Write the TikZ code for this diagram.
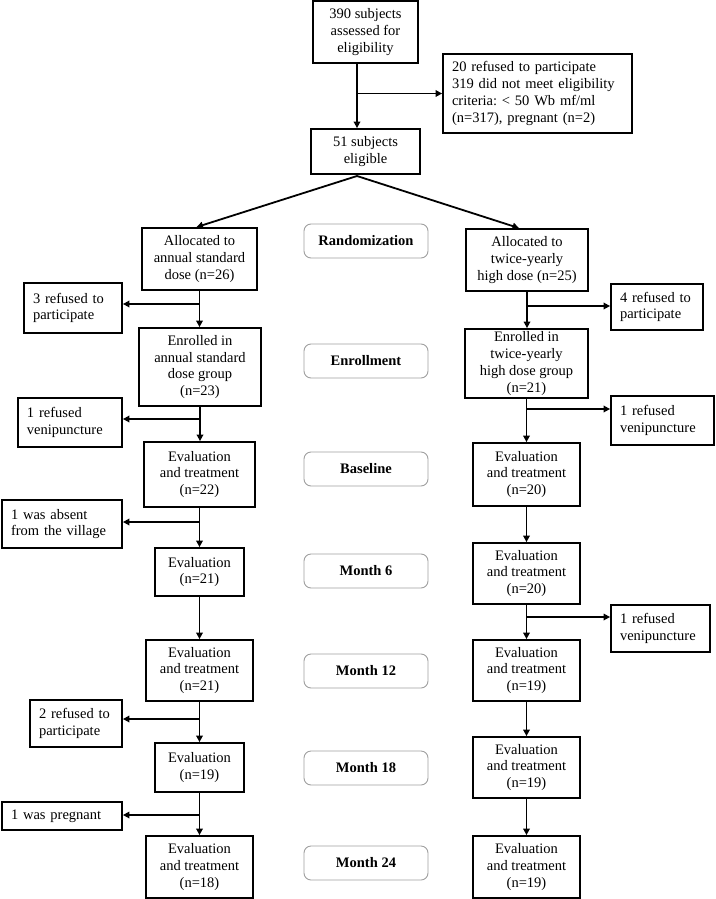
\documentclass[tikz,border=0pt]{standalone}
\usepackage{fontspec}
\setmainfont{Liberation Serif}
\usetikzlibrary{arrows.meta}

\tikzset{
  box/.style 2 args={draw, line width=1.8pt, minimum width=#1, minimum height=#2, inner sep=1pt, align=center},
  sidebox/.style 2 args={draw, line width=1.8pt, text width=#1, minimum height=#2, inner xsep=9pt, inner ysep=1pt, align=left},
  stage/.style={draw=gray!75, line width=0.9pt, rounded corners=7pt, minimum width=124pt, minimum height=34pt,
    font=\fontsize{14.5}{16.8}\selectfont\bfseries},
  arr/.style={line width=1.8pt, -{Triangle[length=6.5pt,width=6.5pt]}},
}

\begin{document}
\begin{tikzpicture}[x=1pt, y=-1pt, font=\fontsize{14.5}{16.8}\selectfont]
\useasboundingbox (0,0) rectangle (715,899);

% screening
\node[box={105pt}{62pt}] (top) at (365.5,32) {390 subjects\\assessed for\\eligibility};
\node[sidebox={171pt}{79pt}] (excl) at (537.5,93.5) {20 refused to participate\\319 did not meet eligibility\\criteria:\ < 50 Wb mf/ml\\(n=317), pregnant (n=2)};
\node[box={109pt}{45pt}] (elig) at (365.5,151.5) {51 subjects\\eligible};

% stages
\foreach \y/\t [count=\i] in {241/Randomization, 361/Enrollment, 469/Baseline, 571/Month 6, 671/Month 12, 768/Month 18, 863/Month 24}
  \node[stage] (stage\i) at (366,\y) {\t};

% annual standard dose arm
\node[box={115pt}{62pt}] (allocL) at (199.5,259) {Allocated to\\annual standard\\dose (n=26)};
\node[box={122pt}{78pt}] (enrL) at (200,367) {Enrolled in\\annual standard\\dose group\\(n=23)};
\node[box={111pt}{65pt}] (baseL) at (199.5,474.5) {Evaluation\\and treatment\\(n=22)};
\node[box={89pt}{48pt}] (m6L) at (199.5,572) {Evaluation\\(n=21)};
\node[box={107pt}{61pt}] (m12L) at (199.5,670.5) {Evaluation\\and treatment\\(n=21)};
\node[box={89pt}{49pt}] (m18L) at (199.5,767.5) {Evaluation\\(n=19)};
\node[box={107pt}{62pt}] (m24L) at (199.5,867) {Evaluation\\and treatment\\(n=18)};

\node[sidebox={80pt}{50pt}] (refL1) at (73,308) {3 refused to\\participate};
\node[sidebox={86pt}{49pt}] (veniL) at (70,422.5) {1 refused\\venipuncture};
\node[sidebox={102pt}{48pt}] (absL) at (62,524) {1 was absent\\from the village};
\node[sidebox={74pt}{47pt}] (refL2) at (76,723.5) {2 refused to\\participate};
\node[sidebox={102pt}{28pt}] (pregL) at (62,816) {1 was pregnant};

% twice-yearly high dose arm
\node[box={122pt}{62pt}] (allocR) at (527,260) {Allocated to\\twice-yearly\\high dose (n=25)};
\node[box={123pt}{69pt}] (enrR) at (526.5,363.5) {Enrolled in\\twice-yearly\\high dose group\\(n=21)};
\node[box={107pt}{63pt}] (baseR) at (526.5,474.5) {Evaluation\\and treatment\\(n=20)};
\node[box={107pt}{61pt}] (m6R) at (526.5,573.5) {Evaluation\\and treatment\\(n=20)};
\node[box={107pt}{61pt}] (m12R) at (526.5,670.5) {Evaluation\\and treatment\\(n=19)};
\node[box={107pt}{61pt}] (m18R) at (526.5,767.5) {Evaluation\\and treatment\\(n=19)};
\node[box={107pt}{62pt}] (m24R) at (526.5,867) {Evaluation\\and treatment\\(n=19)};

\node[sidebox={74pt}{46pt}] (refR1) at (657,307) {4 refused to\\participate};
\node[sidebox={85pt}{49pt}] (veniR) at (662.5,420.5) {1 refused\\venipuncture};
\node[sidebox={81pt}{47pt}] (veniR2) at (660.5,628.5) {1 refused\\venipuncture};

% connectors
\coordinate (trunk) at (357,0);
\coordinate (apex) at (357,176);
\draw[arr] (top.south -| trunk) -- (elig.north -| trunk);
\draw[arr] (excl.west -| trunk) -- (excl.west);
\draw[arr] (apex) -- ([xshift=-3pt]allocL.north);
\draw[arr] (apex) -- ([xshift=-8pt]allocR.north);

\foreach \a/\b in {allocL/enrL, enrL/baseL, baseL/m6L, m6L/m12L, m12L/m18L, m18L/m24L,
                   allocR/enrR, enrR/baseR, baseR/m6R, m6R/m12R, m12R/m18R, m18R/m24R}
  \draw[arr] (\a.south) -- (\a.south |- \b.north);

\foreach \s/\m/\d in {refL1/allocL/4, veniL/enrL/3.5, absL/baseL/2, refL2/m12L/4.5, pregL/m18L/1}
  \draw[arr] ([yshift=\d pt]\s.east -| \m.south) -- ([yshift=\d pt]\s.east);
\foreach \s/\m/\d in {refR1/allocR/1, veniR/enrR/11.5, veniR2/m6R/11.5}
  \draw[arr] ([yshift=\d pt]\s.west -| \m.south) -- ([yshift=\d pt]\s.west);

\end{tikzpicture}
\end{document}
